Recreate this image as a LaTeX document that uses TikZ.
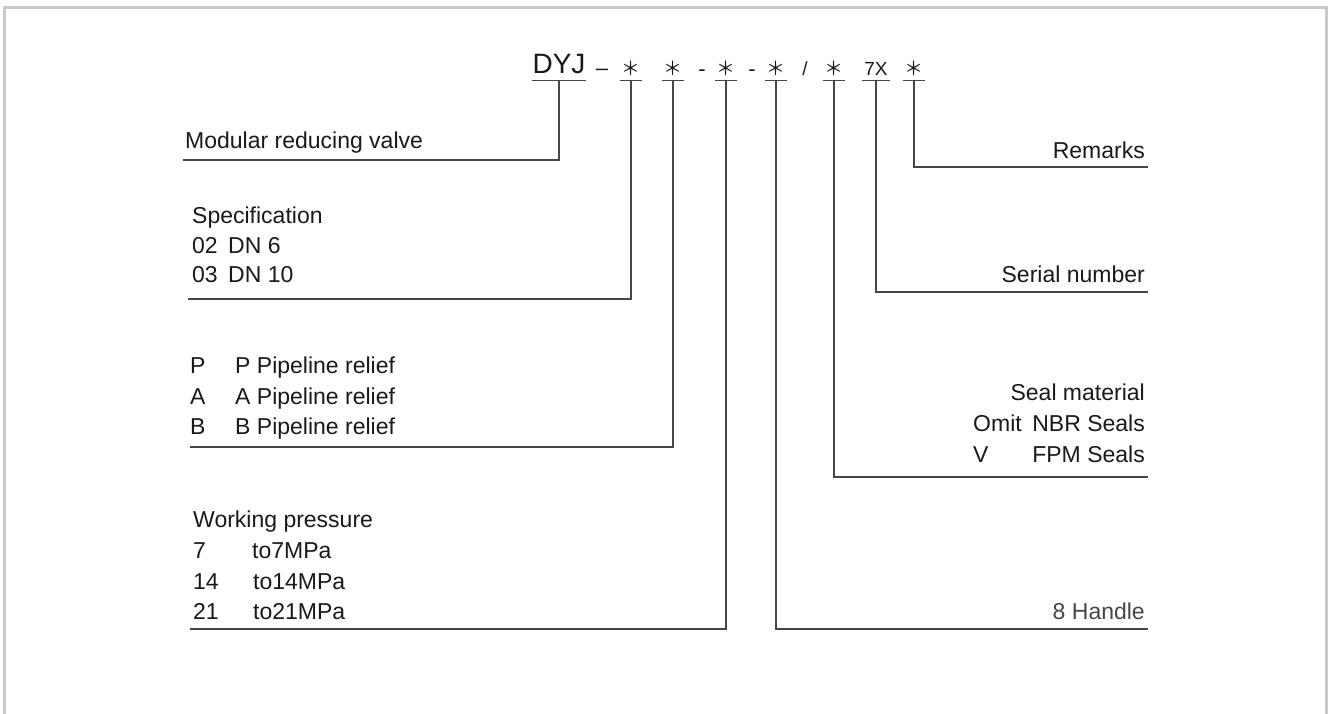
\documentclass[tikz,border=0pt]{standalone}
\usepackage{fontspec}
\setmainfont{Liberation Sans}
\newfontfamily\cjk{Noto Sans CJK SC}
\definecolor{framegray}{RGB}{200,200,205}
\definecolor{linegray}{RGB}{70,70,70}
\definecolor{textblack}{RGB}{25,25,25}
\newcommand{\codestar}{{\cjk ＊}}

\begin{document}
\begin{tikzpicture}[x=1pt, y=-1pt,
  every node/.style={inner sep=0pt, text=textblack, font=\fontsize{23}{27}\selectfont},
  lbl/.style={anchor=base west},
  rlbl/.style={anchor=base east},
  code/.style={anchor=base, text depth=0pt, inner ysep=5pt, minimum width=22pt, font=\fontsize{19}{22}\selectfont},
  sep/.style={code, minimum width=0pt, font=\fontsize{22}{26}\selectfont},
  conn/.style={draw=linegray, line width=1.2pt}]
  \useasboundingbox (0,0) rectangle (1329,713);
  \draw[framegray, line width=3pt] (4,716) -- (4,7) -- (1326,7) -- (1326,716);

  % model code
  \node (dyj) at (559,73) [code, inner ysep=7pt, minimum width=52pt, font=\fontsize{28}{32}\selectfont] {DYJ};
  \node (d1) at (602,75) [sep] {–};
  \node (s1) at (631,75) [code] {\codestar};
  \node (s2) at (673,75) [code] {\codestar};
  \node (d2) at (702,76) [sep] {-};
  \node (s3) at (726,75) [code] {\codestar};
  \node (d3) at (752,76) [sep] {-};
  \node (s4) at (776,75) [code] {\codestar};
  \node (sl) at (805,75) [code, minimum width=0pt] {/};
  \node (s5) at (834,75) [code] {\codestar};
  \node (sx) at (876,75) [code, minimum width=28pt] {7X};
  \node (s6) at (914,75) [code] {\codestar};

  % left side
  \coordinate (e0) at (183,160);
  \node (t0) at (185,148) [lbl] {Modular reducing valve};
  \coordinate (e1) at (188,299);
  \node (t1) at (192,223) [lbl] {Specification};
  \node (t1a) at (192,253) [lbl] {02};
  \node (t1b) at (228,253) [lbl] {DN 6};
  \node (t1c) at (192,282) [lbl] {03};
  \node (t1d) at (228,282) [lbl] {DN 10};
  \coordinate (e2) at (190,447);
  \node (t2a) at (190,373) [lbl] {P};
  \node (t2b) at (235,373) [lbl] {P Pipeline relief};
  \node (t2c) at (190,404) [lbl] {A};
  \node (t2d) at (235,404) [lbl] {A Pipeline relief};
  \node (t2e) at (190,434) [lbl] {B};
  \node (t2f) at (235,434) [lbl] {B Pipeline relief};
  \coordinate (e3) at (190,629);
  \node (t3) at (193,527) [lbl] {Working pressure};
  \node (t3a) at (193,558) [lbl] {7};
  \node (t3b) at (252,558) [lbl] {to7MPa};
  \node (t3c) at (193,589) [lbl] {14};
  \node (t3d) at (253,589) [lbl] {to14MPa};
  \node (t3e) at (193,619) [lbl] {21};
  \node (t3f) at (253,619) [lbl] {to21MPa};

  % right side
  \coordinate (e4) at (1148,629);
  \node (t4) at (1145,619) [rlbl, text=linegray] {8 Handle};
  \coordinate (e5) at (1148,477);
  \node (t5) at (1145,400) [rlbl] {Seal material};
  \node (t5a) at (973,431) [lbl] {Omit};
  \node (t5b) at (1145,431) [rlbl] {NBR Seals};
  \node (t5c) at (973,462) [lbl] {V};
  \node (t5d) at (1145,462) [rlbl] {FPM Seals};
  \coordinate (e6) at (1148,292);
  \node (t6) at (1145,282) [rlbl] {Serial number};
  \coordinate (e7) at (1148,167);
  \node (t7) at (1145,158) [rlbl] {Remarks};

  \foreach \n in {dyj, s1, s2, s3, s4, s5, sx, s6}
    \draw[conn] (\n.south west) -- (\n.south east);
  \foreach \source/\dest in {dyj/e0, s1/e1, s2/e2, s3/e3, s4/e4, s5/e5, sx/e6, s6/e7}
    \draw[conn] (\source.south) |- (\dest);
\end{tikzpicture}
\end{document}
